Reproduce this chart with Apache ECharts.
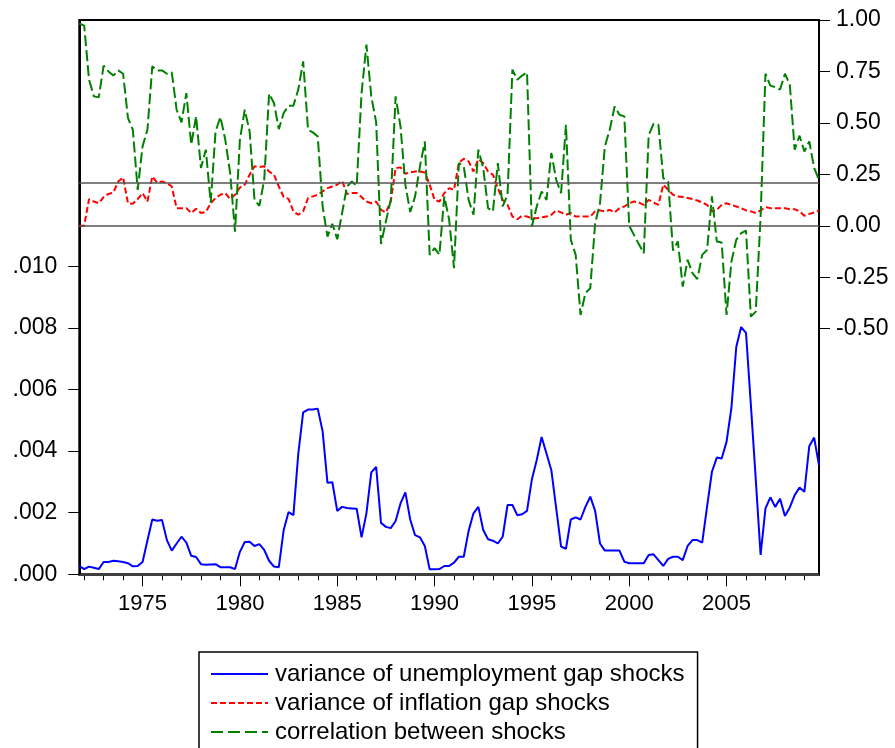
<!DOCTYPE html>
<html>
<head>
<meta charset="utf-8">
<script src="https://cdn.jsdelivr.net/npm/echarts@6/dist/echarts.min.js"></script>
<style>
html,body{margin:0;padding:0;background:#fff;}
#chart{width:895px;height:748px;}
</style>
</head>
<body>
<div id="chart"></div>
<script>
// Quarterly observations, first one 1971Q4, last 2009Q4
const firstYear = 1971, firstQuarter = 4;

// variance of unemployment gap shocks (left axis)
const blue = [
0.00027,0.00017,0.00025,0.00021,0.00017,0.0004,0.0004,0.00044,0.00042,0.0004,
0.00036,0.00026,0.00027,0.0004,0.0011,0.00178,0.00174,0.00176,0.00111,0.00077,
0.001,0.00122,0.00103,0.0006,0.00056,0.00033,0.00031,0.00032,0.00033,0.00023,
0.00023,0.00023,0.00017,0.00073,0.00105,0.00106,0.00092,0.00098,0.00079,0.00044,
0.00025,0.00023,0.00144,0.00202,0.00192,0.00392,0.00526,0.00535,0.00535,0.00538,
0.00464,0.00297,0.00299,0.00206,0.00219,0.00215,0.00214,0.00213,0.0012,0.00198,
0.00331,0.00349,0.00167,0.00154,0.0015,0.00173,0.0023,0.00266,0.00178,0.00127,
0.0012,0.00092,0.00016,0.00016,0.00017,0.00027,0.00027,0.00038,0.00057,0.00057,
0.00141,0.00198,0.00219,0.00144,0.00114,0.00109,0.001,0.00122,0.00225,0.00225,
0.00192,0.00195,0.00206,0.00308,0.00371,0.00446,0.00392,0.00338,0.00214,0.0009,
0.00083,0.00178,0.00185,0.00178,0.00219,0.00252,0.00206,0.001,0.00077,0.00077,
0.00077,0.00077,0.00041,0.00036,0.00036,0.00036,0.00036,0.00063,0.00065,0.00046,
0.00027,0.0005,0.00057,0.00057,0.00046,0.00092,0.00111,0.00111,0.00103,0.0022,
0.00333,0.00379,0.00376,0.0043,0.0054,0.00738,0.00803,0.00784,0.0055,0.0031,
0.00063,0.00214,0.0025,0.00219,0.00245,0.00189,0.00217,0.00257,0.00282,0.00268,
0.00416,0.00444,0.00354
];

// variance of inflation gap shocks (right-axis units)
const red = [
0,0,0.13,0.118,0.11,0.14,0.155,0.162,0.215,0.235,
0.11,0.107,0.13,0.159,0.118,0.24,0.21,0.215,0.208,0.191,
0.086,0.086,0.086,0.062,0.083,0.062,0.067,0.11,0.135,0.151,
0.159,0.13,0.151,0.186,0.2,0.248,0.289,0.286,0.289,0.264,
0.248,0.191,0.14,0.131,0.07,0.054,0.07,0.135,0.143,0.151,
0.167,0.183,0.191,0.2,0.219,0.155,0.159,0.16,0.14,0.118,
0.11,0.118,0.078,0.065,0.118,0.281,0.284,0.253,0.259,0.264,
0.264,0.259,0.2,0.126,0.118,0.159,0.183,0.175,0.305,0.326,
0.313,0.264,0.324,0.305,0.264,0.248,0.183,0.126,0.102,0.045,
0.032,0.049,0.045,0.037,0.037,0.042,0.045,0.054,0.075,0.065,
0.054,0.062,0.045,0.045,0.045,0.045,0.07,0.075,0.07,0.078,
0.065,0.086,0.094,0.11,0.118,0.113,0.102,0.126,0.113,0.102,
0.2,0.175,0.151,0.143,0.14,0.135,0.13,0.123,0.113,0.102,
0.07,0.078,0.102,0.11,0.102,0.094,0.086,0.075,0.07,0.062,
0.075,0.091,0.086,0.086,0.086,0.086,0.081,0.081,0.07,0.049,
0.058,0.065,0.075
];

// correlation between shocks (right axis)
const green = [
0.983,0.973,0.71,0.629,0.624,0.778,0.75,0.73,0.755,0.739,
0.524,0.467,0.175,0.386,0.467,0.775,0.755,0.755,0.739,0.746,
0.564,0.503,0.645,0.394,0.532,0.281,0.37,0.113,0.459,0.529,
0.418,0.256,-0.028,0.418,0.564,0.459,0.126,0.097,0.224,0.642,
0.597,0.47,0.548,0.584,0.584,0.662,0.799,0.467,0.454,0.434,
0.094,-0.052,0.01,-0.065,0.062,0.191,0.215,0.195,0.645,0.88,
0.629,0.503,-0.088,0.021,0.126,0.629,0.483,0.2,0.067,0.143,
0.289,0.41,-0.141,-0.108,-0.141,0.143,0.029,-0.206,0.305,0.289,
0.126,0.054,0.37,0.281,0.086,0.07,0.305,0.094,0.151,0.759,
0.71,0.73,0.746,-0.003,0.094,0.167,0.126,0.354,0.224,0.159,
0.491,-0.068,-0.141,-0.433,-0.327,-0.303,0.013,0.11,0.386,0.467,
0.58,0.54,0.532,0,-0.045,-0.09,-0.133,0.44,0.496,0.491,
0.232,0.215,-0.12,-0.076,-0.295,-0.165,-0.23,-0.259,-0.141,-0.117,
0.143,-0.076,-0.081,-0.433,-0.174,-0.068,-0.036,-0.023,-0.441,-0.417,
0.045,0.739,0.681,0.674,0.662,0.739,0.686,0.37,0.438,0.361,
0.41,0.281,0.224
];

// reference lines
const blueRefLine = 0.00333;
const rightRefLines = [0, 0.209];

// tick labels
const labelYears = [1975, 1980, 1985, 1990, 1995, 2000, 2005];
const leftTicks = [0, 0.002, 0.004, 0.006, 0.008, 0.010];
const rightTicks = [-0.5, -0.25, 0, 0.25, 0.5, 0.75, 1.0];
const seriesNames = ['variance of unemployment gap shocks', 'variance of inflation gap shocks', 'correlation between shocks'];

// quarter positions (year + (q-1)/4)
const quarterPos = blue.map((_, i) => {
  const idx = (firstQuarter - 1) + i;
  return firstYear + Math.floor(idx / 4) + (idx % 4) / 4;
});
const xMin = quarterPos[0], xMax = quarterPos[quarterPos.length - 1];
const yearTicks = [];
for (let y = Math.ceil(xMin); y <= Math.floor(xMax); y++) yearTicks.push(y);

const pair = arr => arr.map((v, i) => [quarterPos[i], v]);

const FONT = 'Liberation Sans, Arial, sans-serif';
const chart = echarts.init(document.getElementById('chart'), null, {renderer: 'canvas'});
chart.setOption({
  animation: false,
  backgroundColor: '#fff',
  grid: {left: 79.3, top: 20, right: 76, bottom: 173.7, show: true, borderColor: '#000', borderWidth: 2, backgroundColor: 'transparent'},
  legend: {
    orient: 'vertical', left: 199, top: 652, height: 130,
    padding: [10, 13, 10, 11],
    itemWidth: 57, itemHeight: 14, itemGap: 5,
    borderColor: '#000', borderWidth: 1.5, borderRadius: 0, backgroundColor: '#fff',
    itemStyle: {opacity: 0},
    textStyle: {fontSize: 24, fontFamily: FONT, color: '#000', padding: [0, 0, 0, 2]},
    data: [
      {name: seriesNames[0], itemStyle: {opacity: 0}, lineStyle: {color: '#0000ff', width: 2, type: 'solid'}},
      {name: seriesNames[1], itemStyle: {opacity: 0}, lineStyle: {color: '#ff0000', width: 2, type: [6, 3]}},
      {name: seriesNames[2], itemStyle: {opacity: 0}, lineStyle: {color: '#008000', width: 2, type: [12, 5]}}
    ]
  },
  xAxis: [
    {type: 'value', min: xMin, max: xMax, position: 'bottom',
     axisLine: {show: true, onZero: false, lineStyle: {color: '#000', width: 2}},
     axisTick: {show: true, customValues: yearTicks, length: 6, lineStyle: {color: '#000', width: 1}},
     axisLabel: {show: false}, splitLine: {show: false}},
    {type: 'value', min: xMin, max: xMax, position: 'bottom',
     axisLine: {show: false, onZero: false},
     axisTick: {show: true, customValues: labelYears, length: 12, lineStyle: {color: '#000', width: 1}},
     axisLabel: {show: true, customValues: labelYears, fontSize: 22, fontFamily: FONT, color: '#000', margin: 19,
       formatter: v => String(v)},
     splitLine: {show: false}}
  ],
  yAxis: [
    {type: 'value', position: 'left', min: 0, max: 0.018,
     axisLine: {show: true, onZero: false, lineStyle: {color: '#000', width: 2}},
     axisTick: {show: true, customValues: leftTicks, length: 11, lineStyle: {color: '#000', width: 1}},
     axisLabel: {show: true, customValues: leftTicks, fontSize: 23, fontFamily: FONT, color: '#000', margin: 22,
       formatter: v => v.toFixed(3).replace(/^0/, '')},
     splitLine: {show: false}},
    {type: 'value', position: 'right', min: -1.693, max: 1.0,
     axisLine: {show: true, onZero: false, lineStyle: {color: '#000', width: 2}},
     axisTick: {show: true, customValues: rightTicks, length: 11, lineStyle: {color: '#000', width: 1}},
     axisLabel: {show: true, customValues: rightTicks, fontSize: 23, fontFamily: FONT, color: '#000', margin: 17,
       formatter: v => v.toFixed(2)},
     splitLine: {show: false}}
  ],
  series: [
    {name: seriesNames[0], type: 'line', xAxisIndex: 0, yAxisIndex: 0, data: pair(blue),
     symbol: 'none', lineStyle: {color: '#0000ff', width: 2}, itemStyle: {color: '#0000ff'},
     markLine: {silent: true, symbol: ['none', 'none'], label: {show: false},
       lineStyle: {color: '#555', width: 1.5, type: 'solid'}, data: [{yAxis: blueRefLine}]}},
    {name: seriesNames[1], type: 'line', xAxisIndex: 0, yAxisIndex: 1, data: pair(red),
     symbol: 'none', lineStyle: {color: '#ff0000', width: 2, type: [6, 3]}, itemStyle: {color: '#ff0000'}},
    {name: seriesNames[2], type: 'line', xAxisIndex: 0, yAxisIndex: 1, data: pair(green),
     symbol: 'none', lineStyle: {color: '#008000', width: 2, type: [11, 4]}, itemStyle: {color: '#008000'},
     markLine: {silent: true, symbol: ['none', 'none'], label: {show: false},
       lineStyle: {color: '#555', width: 1.5, type: 'solid'},
       data: rightRefLines.map(v => ({yAxis: v}))}}
  ]
});
</script>
</body>
</html>
